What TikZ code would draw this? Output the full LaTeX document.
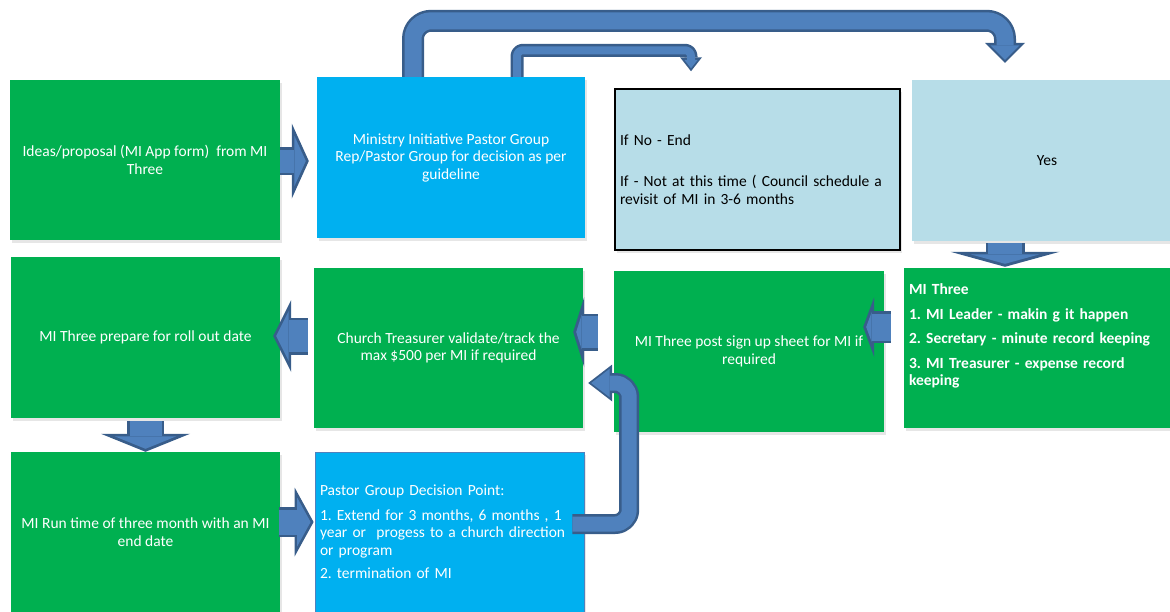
\documentclass[tikz,border=0pt]{standalone}
\usepackage{fontspec}
\setmainfont{Carlito}
\usepackage{xcolor}
\usetikzlibrary{calc,arrows.meta,shadows}
\definecolor{mgreen}{HTML}{00B050}
\definecolor{mcyan}{HTML}{00B0F0}
\definecolor{mpale}{HTML}{B7DDE8}
\definecolor{arrfill}{HTML}{4F81BD}
\definecolor{arrline}{HTML}{385D8A}
\frenchspacing

\begin{document}
\begin{tikzpicture}[x=1pt,y=-1pt,
        box/.style={rectangle,inner sep=5pt,minimum width=#1,minimum height=160pt,font=\fontsize{15.5}{17.5}\selectfont,drop shadow={shadow xshift=2pt,shadow yshift=-3pt,opacity=0.2}},
        greenbox/.style={box=#1,fill=mgreen,text=white,align=center},
        bluebox/.style={box=#1,fill=mcyan,text=white},
        palebox/.style={box=#1,fill=mpale,text=black},
        blk/.style n args={6}{line width=#1,draw=arrline,line join=round,-{Triangle[length=#2,width=#3,line width=0pt]},
            postaction={draw=arrfill,line width=#4,line join=round,shorten >=3pt,-{Triangle[length=#5,width=#6,line width=0pt]}}}]
        \useasboundingbox (0,0) rectangle (1170,611);

        \node[greenbox=270pt] (idea) at(145,160) {Ideas/proposal (MI App form)~ from MI\\Three};
        \node[bluebox=268pt,align=center,minimum height=161pt] (pastor) at(451,157.5) {Ministry Initiative Pastor Group\\Rep/Pastor Group for decision as per\\guideline};
        \node[palebox=285pt,draw=black,line width=1.5pt,minimum height=161pt,text width=275pt,align=left] (no) at(757.5,169.5) {If No - End\\[24pt]If - Not at this time ( Council schedule a\\revisit of MI in 3-6 months};
        \node[palebox=270pt,align=center,minimum height=161pt] (yes) at(1047,160.5) {Yes};

        \node[greenbox=269pt,minimum height=161pt] (rollout) at(145.5,337.5) {MI Three prepare for roll out date};
        \node[greenbox=269pt] (treasurer) at(448.5,348) {Church Treasurer validate/track the\\max \$500 per MI if required};
        \node[greenbox=270pt,minimum height=161pt] (signup) at(749,351.5) {MI Three post sign up sheet for MI if\\required};
        \node[greenbox=270pt,text width=260pt,align=left,font=\fontsize{15.5}{17.5}\selectfont\bfseries] (three) at(1039,348) {MI Three\\[7pt]1. MI Leader - makin g it happen\\[7pt]2. Secretary - minute record keeping\\[7pt]3. MI Treasurer - expense record\\keeping\\[9pt]\mbox{}};

        \node[greenbox=269pt] (runtime) at(145.5,532) {MI Run time of three month with an MI\\end date};
        \node[bluebox=269pt,draw=arrfill,line width=0.8pt,text width=259pt,align=left] (decision) at(449.5,532) {Pastor Group Decision Point:\\[7pt]1. Extend for 3 months, 6 months , 1\\year or~ progess to a church direction\\or program\\[6pt]2. termination of MI};

        \draw[blk={28pt}{17pt}{75pt}{23pt}{11.5pt}{50.7pt}] ($(idea.east)+(0,1)$) -- ($(idea.east -| pastor.west)+(-8,1)$);
        \draw[blk={22pt}{20pt}{40pt}{17pt}{14.5pt}{29pt},rounded corners=18pt] ($(pastor.north)+(-38,0)$) |- ($(yes.north)+(-42,-59)$) -- ($(yes.north)+(-42,-17)$);
        \draw[blk={13pt}{14pt}{22pt}{8pt}{8.5pt}{13.4pt},rounded corners=6pt] ($(pastor.north)+(66,0)$) |- ($(no.north)+(-66.5,-38)$) -- ($(no.north)+(-66.5,-17)$);
        \draw[blk={39pt}{15pt}{109pt}{34pt}{9.5pt}{69pt}] ($(yes.south)+(-42,2)$) -- ($(three.north)+(-34,-1)$);
        \draw[blk={32pt}{11pt}{60pt}{27pt}{5.5pt}{30pt}] ($(three.west)+(-13,-21)$) -- ($(signup.east)+(-21,-24.5)$);
        \draw[blk={37pt}{11pt}{70pt}{32pt}{5.5pt}{35pt}] ($(signup.west)+(-16,-19.5)$) -- ($(treasurer.east)+(-10,-16)$);
        \draw[blk={37pt}{18pt}{72pt}{32pt}{12.5pt}{50pt}] ($(treasurer.west)+(-6,-12)$) -- ($(rollout.east)+(-7,-1.5)$);
        \draw[blk={37pt}{18pt}{89pt}{32pt}{12.5pt}{61.8pt}] ($(rollout.south)+(0,3)$) -- (runtime.north);
        \draw[blk={30pt}{19pt}{69pt}{25pt}{13.5pt}{49pt}] ($(runtime.east)+(-1,-10)$) -- ($(decision.west)+(-1,-10)$);
        \draw[blk={20pt}{24pt}{37pt}{15pt}{18.5pt}{28.5pt},rounded corners=14pt] ($(decision.east)+(-12,-8)$) -| ($(treasurer.east)+(46,35)$) -- ($(treasurer.east)+(5,35)$);
\end{tikzpicture}
\end{document}
